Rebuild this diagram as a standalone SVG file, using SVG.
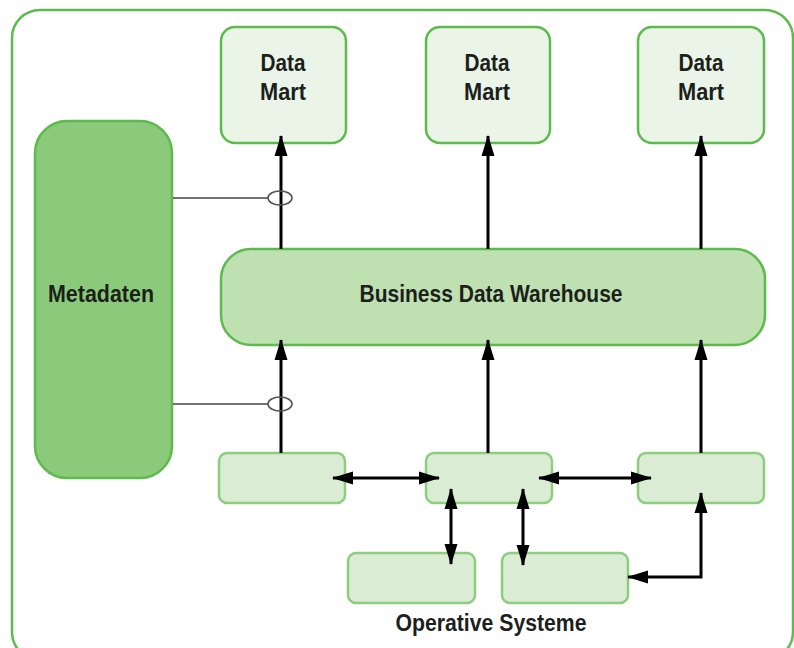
<svg xmlns="http://www.w3.org/2000/svg" width="794" height="648" viewBox="0 0 794 648">
  <defs>
    <style>
      .frame { fill: #ffffff; stroke: #5cbb4c; stroke-width: 2.5; }
      .mart { fill: #eaf5e8; stroke: #5cbb4c; stroke-width: 2.5; }
      .meta { fill: #8aca7a; stroke: #5cbb4c; stroke-width: 2.5; }
      .bdw { fill: #bfe0b1; stroke: #5cbb4c; stroke-width: 2.5; }
      .src { fill: #daecd4; stroke: #8ccd7e; stroke-width: 2.5; }
      .lbl { font-family: "Liberation Sans", Arial, sans-serif; font-weight: bold; font-size: 23px; fill: #1c1f1c; text-anchor: middle; }
      .flow { fill: none; stroke: #000000; stroke-width: 3; }
      .thin { fill: none; stroke: #444444; stroke-width: 1.3; }
      .ring { fill: none; stroke: #555555; stroke-width: 1.6; }
    </style>
    <marker id="head" viewBox="0 0 21 13" markerUnits="userSpaceOnUse" markerWidth="21" markerHeight="13" refX="20" refY="6.5" orient="auto-start-reverse" overflow="visible">
      <path d="M0,0 L21,6.5 L0,13 Z" fill="#000000"/>
    </marker>
  </defs>

  <!-- outer frame -->
  <rect class="frame" x="12" y="10" width="781" height="650" rx="28"/>

  <g id="mart1">
    <rect class="mart" x="221" y="27" width="125" height="116" rx="14"/>
    <text class="lbl" x="283" y="71" textLength="45" lengthAdjust="spacingAndGlyphs">Data</text>
    <text class="lbl" x="283" y="100" textLength="46" lengthAdjust="spacingAndGlyphs">Mart</text>
  </g>
  <g id="mart2">
    <rect class="mart" x="426" y="27" width="124" height="116" rx="14"/>
    <text class="lbl" x="487" y="71" textLength="45" lengthAdjust="spacingAndGlyphs">Data</text>
    <text class="lbl" x="487" y="100" textLength="46" lengthAdjust="spacingAndGlyphs">Mart</text>
  </g>
  <g id="mart3">
    <rect class="mart" x="638" y="27" width="126" height="116" rx="14"/>
    <text class="lbl" x="701" y="71" textLength="45" lengthAdjust="spacingAndGlyphs">Data</text>
    <text class="lbl" x="701" y="100" textLength="46" lengthAdjust="spacingAndGlyphs">Mart</text>
  </g>

  <g id="metadaten">
    <rect class="meta" x="35" y="121" width="137" height="357" rx="32"/>
    <text class="lbl" x="101" y="302" textLength="106" lengthAdjust="spacingAndGlyphs">Metadaten</text>
  </g>

  <g id="warehouse">
    <rect class="bdw" x="221" y="249" width="544" height="96" rx="30"/>
    <text class="lbl" x="491" y="302" textLength="263" lengthAdjust="spacingAndGlyphs">Business Data Warehouse</text>
  </g>

  <g id="source1"><rect class="src" x="219" y="453" width="126" height="50" rx="8"/></g>
  <g id="source2"><rect class="src" x="426" y="453" width="126" height="50" rx="8"/></g>
  <g id="source3"><rect class="src" x="638" y="453" width="126" height="50" rx="8"/></g>
  <g id="source4"><rect class="src" x="348" y="553" width="127" height="50" rx="8"/></g>
  <g id="source5"><rect class="src" x="502" y="553" width="126" height="50" rx="8"/></g>

  <g id="caption">
    <text class="lbl" x="491" y="631" textLength="191" lengthAdjust="spacingAndGlyphs">Operative Systeme</text>
  </g>

  <!-- connectors, drawn on top so the arrowheads overlap the boxes -->
  <g id="connectors">
    <!-- warehouse to data marts -->
    <line class="flow" x1="281" y1="249" x2="281" y2="136" marker-end="url(#head)"/>
    <line class="flow" x1="488" y1="249" x2="488" y2="136" marker-end="url(#head)"/>
    <line class="flow" x1="701" y1="249" x2="701" y2="136" marker-end="url(#head)"/>
    <!-- sources to warehouse -->
    <line class="flow" x1="281" y1="453" x2="281" y2="340" marker-end="url(#head)"/>
    <line class="flow" x1="488" y1="453" x2="488" y2="340" marker-end="url(#head)"/>
    <line class="flow" x1="701" y1="453" x2="701" y2="340" marker-end="url(#head)"/>
    <!-- exchange between sources -->
    <line class="flow" x1="333" y1="478" x2="439" y2="478" marker-start="url(#head)" marker-end="url(#head)"/>
    <line class="flow" x1="539" y1="478" x2="651" y2="478" marker-start="url(#head)" marker-end="url(#head)"/>
    <line class="flow" x1="451" y1="489" x2="451" y2="564" marker-start="url(#head)" marker-end="url(#head)"/>
    <line class="flow" x1="523" y1="489" x2="523" y2="565" marker-start="url(#head)" marker-end="url(#head)"/>
    <path class="flow" d="M628,577 H701 V493" marker-start="url(#head)" marker-end="url(#head)"/>
    <!-- metadata links -->
    <line class="thin" x1="173" y1="198" x2="268" y2="198"/>
    <ellipse class="ring" cx="280" cy="198" rx="12" ry="7"/>
    <line class="thin" x1="173" y1="404" x2="268" y2="404"/>
    <ellipse class="ring" cx="280" cy="404" rx="12" ry="7"/>
  </g>
</svg>
